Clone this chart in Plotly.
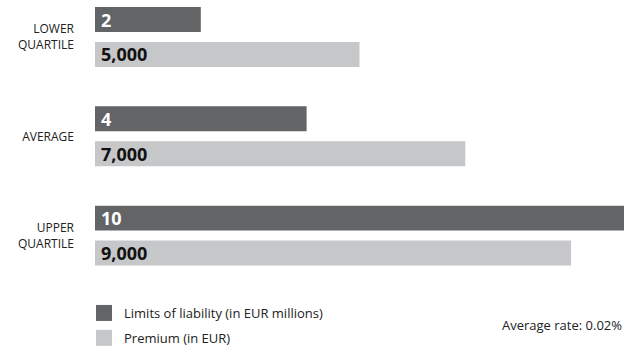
import plotly.graph_objects as go

# Categories and series values
categories = ["LOWER<br>QUARTILE", "AVERAGE", "UPPER<br>QUARTILE"]
limits_meur = [2, 4, 10]          # Limits of liability (in EUR millions)
premium_eur = [5000, 7000, 9000]  # Premium (in EUR)
average_rate = "0.02%"

DARK = "#636466"
LIGHT = "#c6c7c9"
FONT = "Open Sans"

# Premium is shown on the same scale as the limits, in thousands of EUR
premium_k = [v / 1000 for v in premium_eur]

fig = go.Figure()

fig.add_trace(go.Bar(
    y=categories, x=limits_meur, orientation="h",
    marker=dict(color=DARK, line=dict(width=0)),
    text=["\u2009" + f"{v:,}" for v in limits_meur],
    textposition="inside", insidetextanchor="start", textangle=0,
    constraintext="none",
    textfont=dict(family=FONT, size=18, color="white", weight="bold"),
    showlegend=False, hoverinfo="skip",
))
fig.add_trace(go.Bar(
    y=categories, x=premium_k, orientation="h",
    marker=dict(color=LIGHT, line=dict(width=0)),
    text=["\u2009" + f"{v:,}" for v in premium_eur],
    textposition="inside", insidetextanchor="start", textangle=0,
    constraintext="none",
    textfont=dict(family=FONT, size=18, color="#111111", weight="bold"),
    showlegend=False, hoverinfo="skip",
))

# Legend entries with square swatches
for name, color, grp in [("Limits of liability (in EUR millions)", DARK, "a"),
                         ("Premium (in EUR)", LIGHT, "b")]:
    fig.add_trace(go.Scatter(
        x=[None], y=[None], mode="markers", name=name, legendgroup=grp,
        marker=dict(symbol="square", size=16, color=color, line=dict(width=0)),
    ))

fig.update_layout(
    width=638, height=351,
    margin=dict(l=95, r=14, t=0, b=71, autoexpand=False),
    paper_bgcolor="white", plot_bgcolor="white",
    barmode="group", bargap=0.296, bargroupgap=0.286,
    font=dict(family=FONT, size=12, color="#222222"),
    xaxis=dict(range=[0, 10], visible=False, fixedrange=True),
    yaxis=dict(
        range=[2.447, -0.3726], showgrid=False, zeroline=False, showline=False,
        ticks="", ticklabelstandoff=20, automargin=False,
        tickfont=dict(family=FONT, size=12, color="#222222"),
        fixedrange=True,
    ),
    legend=dict(
        xref="container", yref="container",
        x=84 / 638, y=1 - 298 / 351, xanchor="left", yanchor="top",
        font=dict(family=FONT, size=13, color="#222222"),
        itemsizing="trace", tracegroupgap=5, bgcolor="rgba(0,0,0,0)",
    ),
    annotations=[dict(
        text=f"Average rate: {average_rate}", xref="paper", yref="paper",
        x=1, y=-0.16, xanchor="right", yanchor="middle", showarrow=False,
        font=dict(family=FONT, size=13, color="#222222"),
    )],
)

fig.write_html("out.html")
